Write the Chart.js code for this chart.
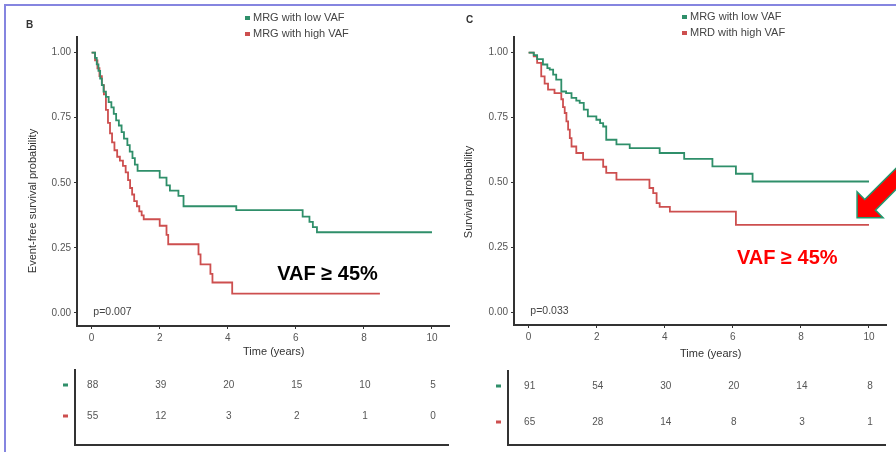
<!DOCTYPE html>
<html>
<head>
<meta charset="utf-8">
<script src="https://cdn.jsdelivr.net/npm/chart.js@4.4.1/dist/chart.umd.min.js"></script>
<style>
  body { margin: 0; background: #fff; }
  #wrap { position: relative; width: 896px; height: 452px; overflow: hidden; background: #fff; }
  #frame { position: absolute; left: 4px; top: 4px; width: 900px; height: 460px;
           border-left: 2px solid #8585e0; border-top: 2px solid #8585e0; }
  canvas { position: absolute; top: 0; }
</style>
</head>
<body>
<div id="wrap">
  <div id="frame"></div>
  <canvas id="chartB" width="452" height="452" style="left:0"></canvas>
  <canvas id="chartC" width="450" height="452" style="left:446px"></canvas>
</div>
<script>
// shared axes
const timeTicks = [0, 2, 4, 6, 8, 10];
const probTicks = [0, 0.25, 0.5, 0.75, 1];

// panel B: event-free survival
const bLowTime  = [0, 0.1, 0.15, 0.2, 0.25, 0.3, 0.35, 0.42, 0.5, 0.58, 0.65, 0.72, 0.8, 0.88, 0.95, 1.05, 1.12, 1.2, 1.27, 1.35, 2.0, 2.2, 2.3, 2.55, 2.7, 4.25, 6.2, 6.4, 6.5, 6.62, 10.0];
const bLowSurv  = [1, 0.98, 0.955, 0.93, 0.9, 0.875, 0.85, 0.83, 0.81, 0.79, 0.765, 0.74, 0.72, 0.695, 0.67, 0.645, 0.62, 0.595, 0.57, 0.546, 0.52, 0.49, 0.47, 0.45, 0.41, 0.395, 0.37, 0.35, 0.33, 0.31, 0.31];
const bHighTime = [0, 0.1, 0.17, 0.23, 0.3, 0.36, 0.42, 0.48, 0.54, 0.6, 0.67, 0.75, 0.83, 0.92, 1.0, 1.07, 1.13, 1.19, 1.25, 1.33, 1.4, 1.47, 1.53, 2.0, 2.2, 2.25, 3.14, 3.2, 3.49, 3.55, 4.13, 8.47];
const bHighSurv = [1, 0.97, 0.94, 0.91, 0.875, 0.84, 0.78, 0.73, 0.69, 0.655, 0.625, 0.6, 0.585, 0.565, 0.54, 0.51, 0.48, 0.455, 0.43, 0.41, 0.39, 0.375, 0.36, 0.335, 0.3, 0.264, 0.225, 0.187, 0.15, 0.117, 0.074, 0.074];
const bLowRisk  = [88, 39, 20, 15, 10, 5];
const bHighRisk = [55, 12, 3, 2, 1, 0];

// panel C: overall survival
const cLowTime  = [0, 0.15, 0.25, 0.42, 0.55, 0.62, 0.72, 0.81, 0.96, 1.1, 1.26, 1.4, 1.5, 1.62, 1.74, 1.99, 2.1, 2.19, 2.28, 2.58, 2.97, 3.85, 4.57, 5.4, 6.09, 6.58, 10.0];
const cLowSurv  = [1, 0.99, 0.975, 0.954, 0.94, 0.934, 0.915, 0.896, 0.85, 0.844, 0.825, 0.815, 0.806, 0.78, 0.754, 0.741, 0.728, 0.715, 0.664, 0.646, 0.632, 0.613, 0.59, 0.561, 0.533, 0.503, 0.503];
const cHighTime = [0, 0.15, 0.25, 0.37, 0.47, 0.57, 0.76, 0.96, 1.01, 1.06, 1.11, 1.16, 1.21, 1.26, 1.4, 1.6, 2.19, 2.28, 2.58, 3.55, 3.66, 3.76, 3.85, 4.15, 6.09, 10.0];
const cHighSurv = [1, 0.985, 0.96, 0.908, 0.88, 0.857, 0.844, 0.82, 0.79, 0.767, 0.735, 0.703, 0.67, 0.638, 0.613, 0.587, 0.56, 0.536, 0.51, 0.478, 0.458, 0.42, 0.405, 0.387, 0.336, 0.336];
const cLowRisk  = [91, 54, 30, 20, 14, 8];
const cHighRisk = [65, 28, 14, 8, 3, 1];

const GREEN = '#2f8f6a';
const RED = '#cd4f4f';
const FONT = '"Liberation Sans", Arial, sans-serif';
Chart.defaults.font.family = FONT;

const toXY = (t, s) => t.map((v, i) => ({ x: v, y: s[i] }));

// draws letter, legend, y title, x title, p value, risk table and annotations
const extras = {
  id: 'extras',
  afterDraw(chart, args, o) {
    const ctx = chart.ctx, xs = chart.scales.x, ys = chart.scales.y;
    ctx.save();
    ctx.textBaseline = 'middle';

    ctx.fillStyle = '#333';
    ctx.font = 'bold 10px ' + FONT;
    ctx.textAlign = 'left';
    ctx.fillText(o.letter, o.letterX, o.letterY);

    chart.data.datasets.forEach((ds, i) => {
      const y = o.legendY + i * 16;
      ctx.fillStyle = ds.borderColor;
      ctx.fillRect(o.legendX, y - 2, 5, 4);
      ctx.fillStyle = '#444';
      ctx.font = '11px ' + FONT;
      ctx.fillText(ds.label, o.legendX + 8, y);
    });

    ctx.save();
    ctx.translate(o.yTitleX, o.yTitleY);
    ctx.rotate(-Math.PI / 2);
    ctx.textAlign = 'center';
    ctx.fillStyle = '#333';
    ctx.font = '11px ' + FONT;
    ctx.fillText(o.yTitle, 0, 0);
    ctx.restore();

    ctx.textAlign = 'center';
    ctx.fillStyle = '#333';
    ctx.font = '11px ' + FONT;
    ctx.fillText('Time (years)', xs.getPixelForValue(5.35), o.xTitleY);

    ctx.textAlign = 'left';
    ctx.fillStyle = '#444';
    ctx.font = '10.5px ' + FONT;
    ctx.fillText(o.pText, xs.getPixelForValue(0.05), ys.getPixelForValue(0.005));

    // risk table
    ctx.strokeStyle = '#333';
    ctx.lineWidth = 2;
    ctx.beginPath();
    ctx.moveTo(o.tableLeft, o.tableTop);
    ctx.lineTo(o.tableLeft, o.tableBottom);
    ctx.lineTo(chart.chartArea.right, o.tableBottom);
    ctx.stroke();
    o.risk.forEach((row, r) => {
      const y = o.rowY[r];
      ctx.fillStyle = chart.data.datasets[r].borderColor;
      ctx.fillRect(o.tableLeft - 12, y - 1.5, 5, 3);
      ctx.fillStyle = '#555';
      ctx.font = '10px ' + FONT;
      ctx.textAlign = 'center';
      row.forEach((n, k) => ctx.fillText(String(n), xs.getPixelForValue(timeTicks[k]) + 1, y));
    });

    // "VAF >= 45%" note
    ctx.fillStyle = o.vafColor;
    ctx.font = 'bold 20px ' + FONT;
    ctx.textAlign = 'center';
    ctx.fillText('VAF \u2265 45%', xs.getPixelForValue(o.vafAt[0]), ys.getPixelForValue(o.vafAt[1]));

    if (o.arrowAt) {
      const tx = xs.getPixelForValue(o.arrowAt[0]), ty = ys.getPixelForValue(o.arrowAt[1]);
      const pts = [[0, 0], [18.4, -18.4], [18.4, -7.5], [70, -7.5], [70, 7.5], [18.4, 7.5], [18.4, 18.4]];
      const r2 = Math.SQRT1_2;
      ctx.beginPath();
      pts.forEach(([u, v], i) => {
        const px = tx + (u + v) * r2, py = ty + (v - u) * r2;
        i ? ctx.lineTo(px, py) : ctx.moveTo(px, py);
      });
      ctx.closePath();
      ctx.fillStyle = '#ff0000';
      ctx.fill();
      ctx.strokeStyle = '#1f9a6e';
      ctx.lineWidth = 1.5;
      ctx.stroke();
    }
    ctx.restore();
  }
};

function makePanel(id, series, labels, padding, opts) {
  return new Chart(document.getElementById(id), {
    type: 'line',
    data: {
      datasets: series.map((s, i) => ({
        label: labels[i],
        data: toXY(s[0], s[1]),
        borderColor: i === 0 ? GREEN : RED,
        borderWidth: 1.8,
        stepped: true,
        pointRadius: 0,
        fill: false
      }))
    },
    options: {
      responsive: false,
      animation: false,
      layout: { padding: padding },
      plugins: { legend: { display: false }, tooltip: { enabled: false }, extras: opts },
      scales: {
        x: {
          type: 'linear', min: -0.43, max: 10.5,
          afterFit: s => { s.height = 30; },
          afterBuildTicks: s => { s.ticks = timeTicks.map(v => ({ value: v })); },
          ticks: { color: '#555', font: { size: 10 }, padding: 3, callback: v => String(v) },
          grid: { drawOnChartArea: false, tickLength: 3, color: '#333' },
          border: { color: '#333', width: 2 }
        },
        y: {
          min: -0.05, max: 1.06,
          afterFit: s => { s.width = 40; },
          afterBuildTicks: s => { s.ticks = probTicks.map(v => ({ value: v })); },
          ticks: { color: '#555', font: { size: 10 }, padding: 3, callback: v => v.toFixed(2) },
          grid: { drawOnChartArea: false, tickLength: 3, color: '#333' },
          border: { color: '#333', width: 2 }
        }
      }
    },
    plugins: [extras]
  });
}

makePanel('chartB',
  [[bLowTime, bLowSurv], [bHighTime, bHighSurv]],
  ['MRG with low VAF', 'MRG with high VAF'],
  { top: 37, left: 37, right: 3, bottom: 96 },
  { letter: 'B', letterX: 26, letterY: 25, legendX: 245, legendY: 18,
    yTitle: 'Event-free survival probability', yTitleX: 33, yTitleY: 201, xTitleY: 352,
    pText: 'p=0.007', risk: [bLowRisk, bHighRisk],
    tableLeft: 75, tableTop: 369, tableBottom: 445, rowY: [385, 416],
    vafColor: '#000', vafAt: [6.93, 0.146] });

makePanel('chartC',
  [[cLowTime, cLowSurv], [cHighTime, cHighSurv]],
  ['MRG with low VAF', 'MRD with high VAF'],
  { top: 37, left: 28, right: 10, bottom: 97 },
  { letter: 'C', letterX: 20, letterY: 20, legendX: 236, legendY: 17,
    yTitle: 'Survival probability', yTitleX: 23, yTitleY: 192, xTitleY: 354,
    pText: 'p=0.033', risk: [cLowRisk, cHighRisk],
    tableLeft: 62, tableTop: 370, tableBottom: 445, rowY: [386, 422],
    vafColor: '#ff0000', vafAt: [7.6, 0.205], arrowAt: [9.65, 0.363] });
</script>
</body>
</html>
